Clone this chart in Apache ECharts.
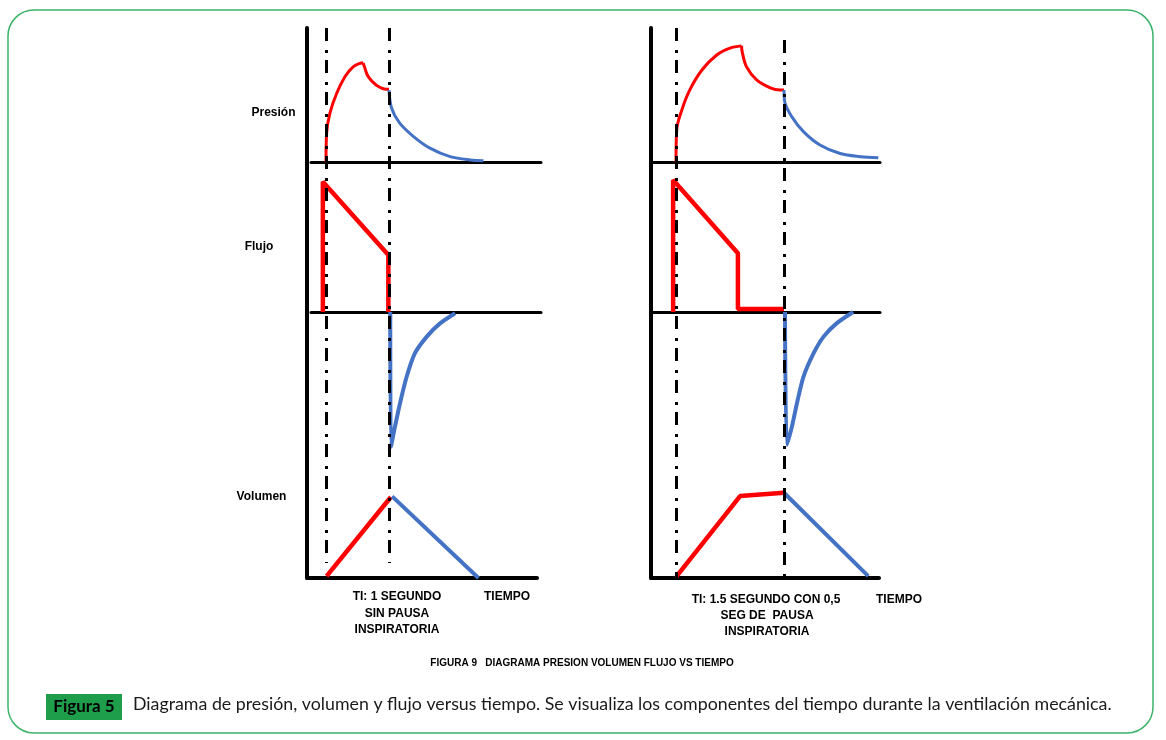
<!DOCTYPE html>
<html>
<head>
<meta charset="utf-8">
<script src="https://cdn.jsdelivr.net/npm/echarts@6/dist/echarts.min.js"></script>
<style>
html,body{margin:0;padding:0;background:#fff;}
#chart{width:1166px;height:740px;}
</style>
</head>
<body>
<div id="chart"></div>
<script>
// ---------- DATA (time in s, pressure in cmH2O-like units, flow in L/min-like units, volume in mL-like units) ----------
const inspTimeLeft = 1.0;     // TI: 1 segundo sin pausa
const inspTimeRight = 1.5;    // TI: 1.5 segundo con 0,5 seg de pausa

const presLeftRise = [[0,0],[0.01,6.5],[0.063,11.0],[0.17,15.4],[0.30,19.1],[0.43,21.3],[0.54,22.1],[0.59,22.2]];
const presLeftHold = [[0.59,22.2],[0.61,21.3],[0.67,19.1],[0.80,17.2],[0.96,16.3],[1.0,16.3]];
const presLeftExp  = [[1.0,16.1],[1.04,12.1],[1.17,8.7],[1.39,5.7],[1.65,3.1],[1.97,1.2],[2.29,0.45],[2.50,0.3]];

const presRightRise = [[0,0],[0.01,7.2],[0.08,11.6],[0.19,16.1],[0.36,20.6],[0.57,24.0],[0.75,25.5],[0.91,26.0]];
const presRightHold = [[0.91,26.0],[0.92,24.6],[0.98,21.3],[1.12,18.4],[1.31,16.6],[1.44,16.1],[1.5,16.1]];
const presRightExp  = [[1.5,16.1],[1.51,13.5],[1.61,10.1],[1.77,6.8],[2.0,3.8],[2.28,1.9],[2.56,1.2],[2.81,0.96]];

const flowLeftInsp = [[-0.05,0],[-0.05,43.4],[0.99,19],[0.99,0]];
const flowLeftExp  = [[1.02,0],[1.03,-45],[1.095,-38.2],[1.175,-30.4],[1.28,-21.6],[1.41,-13.8],[1.60,-8.2],[1.81,-3.8],[2.05,-0.4]];

const flowRightInsp = [[-0.04,0],[-0.04,44],[0.86,19.6],[0.86,1],[1.5,1]];
const flowRightExp  = [[1.514,0],[1.54,-44.3],[1.61,-38.2],[1.68,-30.4],[1.77,-21.6],[1.91,-13.8],[2.05,-8.2],[2.23,-3.8],[2.46,0]];

const volLeftInsp  = [[0.01,10],[1.03,419]];
const volLeftExp   = [[1.05,422],[2.42,0]];
const volRightInsp = [[0.01,10],[0.89,424],[1.5,441]];
const volRightExp  = [[1.5,441],[2.67,10]];

const panelLabels = ['Presión','Flujo','Volumen'];
const leftNote  = ['TI: 1 SEGUNDO','SIN PAUSA','INSPIRATORIA'];
const rightNote = ['TI: 1.5 SEGUNDO CON 0,5','SEG DE  PAUSA','INSPIRATORIA'];
const timeLabel = 'TIEMPO';
const figTitle = 'FIGURA 9   DIAGRAMA PRESION VOLUMEN FLUJO VS TIEMPO';
const badgeText = 'Figura 5';
const captionText = 'Diagrama de presión, volumen y flujo versus tiempo. Se visualiza los componentes del tiempo durante la ventilación mecánica.';

// ---------- LAYOUT ----------
const RED = '#ff0000', BLUE = '#4472c4';
const panels = [
  {origin:326, scale:63, frameLeft:307, frameRight:541, presLeft:311, presRight:541, flowLeft:311, flowRight:541, volLeft:307, volRight:537,
   ti: inspTimeLeft, dash:[[550,15],[550,15]]},
  {origin:676, scale:72, frameLeft:651, frameRight:880, presLeft:651, presRight:880, flowLeft:651, flowRight:880, volLeft:651, volRight:879,
   ti: inspTimeRight, dash:[[550,0],[538,0]]}
];
const TOP = 28, PRES_H = 134, FLOW_TOP = 162, FLOW_H = 300, VOL_TOP = 462, VOL_H = 116;

const grids = [], xAxes = [], yAxes = [], series = [];
function addGrid(p, l, r, top, h, ymin, ymax, xLine, xLineW, yLine){
  const idx = grids.length;
  grids.push({left:l, top:top, width:r-l, height:h, containLabel:false});
  xAxes.push({type:'value', gridIndex:idx, min:(l-p.origin)/p.scale, max:(r-p.origin)/p.scale,
    axisLine:{show:xLine, onZero:true, lineStyle:{color:'#000', width:xLineW}},
    axisTick:{show:false}, axisLabel:{show:false}, splitLine:{show:false}});
  yAxes.push({type:'value', gridIndex:idx, min:ymin, max:ymax,
    axisLine:{show:yLine, onZero:false, lineStyle:{color:'#000', width:4}},
    axisTick:{show:false}, axisLabel:{show:false}, splitLine:{show:false}});
  return idx;
}
function line(idx, data, color, width, smooth){
  series.push({type:'line', xAxisIndex:idx, yAxisIndex:idx, data:data, showSymbol:false, symbol:'none',
    smooth:smooth||false, silent:true, animation:false, clip:false,
    lineStyle:{color:color, width:width}});
}

const curves = [
  {pres:[presLeftRise,presLeftHold,presLeftExp], flow:[flowLeftInsp,flowLeftExp], vol:[volLeftInsp,volLeftExp]},
  {pres:[presRightRise,presRightHold,presRightExp], flow:[flowRightInsp,flowRightExp], vol:[volRightInsp,volRightExp]}
];

panels.forEach((p, k) => {
  const c = curves[k];
  // frame grid: vertical axis + dash-dot timing lines
  const f = addGrid(p, p.frameLeft, p.frameRight, TOP, 550, 0, 550, false, 0, true);
  series.push({type:'line', xAxisIndex:f, yAxisIndex:f, data:[], silent:true, animation:false,
    markLine:{silent:true, symbol:['none','none'], label:{show:false}, animation:false,
      lineStyle:{color:'#000', width:3, type:[13,9,3,7]},
      data:[
        [{coord:[0, p.dash[0][0]]},{coord:[0, p.dash[0][1]]}],
        [{coord:[p.ti, p.dash[1][0]]},{coord:[p.ti, p.dash[1][1]]}]
      ]}});
  const gp = addGrid(p, p.presLeft, p.presRight, TOP, PRES_H, 0, 30, true, 3, false);
  line(gp, c.pres[0], RED, 3, 0.35);
  line(gp, c.pres[1], RED, 3, 0.35);
  line(gp, c.pres[2], BLUE, 3, 0.35);
  const gf = addGrid(p, p.flowLeft, p.flowRight, FLOW_TOP, FLOW_H, -50, 50, true, 3, false);
  line(gf, c.flow[0], RED, 4.5, false);
  line(gf, c.flow[1], BLUE, 4, 0.25);
  const gv = addGrid(p, p.volLeft, p.volRight, VOL_TOP, VOL_H, 0, 600, true, 4, false);
  line(gv, c.vol[0], RED, 4.5, false);
  line(gv, c.vol[1], BLUE, 4, false);
});

const ARIAL = '"Liberation Sans", Arial, sans-serif';
const CAL = 'Lato, "Noto Sans", sans-serif';
function txt(x, y, s, opt){
  return Object.assign({type:'text', x:x, y:y, silent:true,
    style:Object.assign({text:s, fill:'#000', font:'bold 12px ' + ARIAL, textAlign:'center', textVerticalAlign:'middle'}, opt||{})});
}
const graphics = [
  {type:'rect', shape:{x:8, y:10, width:1145, height:723, r:26}, silent:true,
   style:{fill:'none', stroke:'#3cb46a', lineWidth:1.5}},
  txt(273.5, 113, panelLabels[0]),
  txt(259, 247, panelLabels[1]),
  txt(261.5, 497, panelLabels[2]),
  txt(397, 597, leftNote[0]), txt(397, 614, leftNote[1]), txt(397, 630, leftNote[2]),
  txt(507, 597, timeLabel),
  txt(766, 600, rightNote[0]), txt(767, 616, rightNote[1]), txt(767, 632, rightNote[2]),
  txt(899, 600, timeLabel),
  txt(582, 663, figTitle, {font:'bold 10px "Liberation Sans Narrow", "Liberation Sans", sans-serif'}),
  {type:'rect', shape:{x:46, y:694, width:76, height:26}, silent:true, style:{fill:'#1e9e4a'}},
  txt(84, 707, badgeText, {font:'bold 17px ' + CAL}),
  txt(133, 704, captionText, {font:'17.8px ' + CAL, textAlign:'left', fill:'#1a1a1a'})
];

const chart = echarts.init(document.getElementById('chart'), null, {renderer:'canvas'});
chart.setOption({
  animation:false,
  backgroundColor:'#fff',
  grid:grids, xAxis:xAxes, yAxis:yAxes, series:series,
  graphic:graphics
});
</script>
</body>
</html>
